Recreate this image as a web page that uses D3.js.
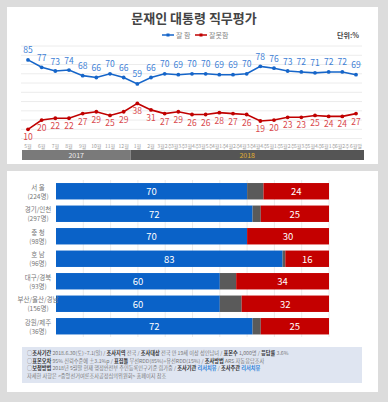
<!DOCTYPE html>
<html>
<head>
<meta charset="utf-8">
<script src="https://cdn.jsdelivr.net/npm/d3@7"></script>
<style>
  body { margin: 0; background: #dcdcdc; }
  svg { display: block; font-family: "Noto Sans CJK KR", "Noto Sans", sans-serif; }
</style>
</head>
<body>
<svg id="chart" width="388" height="402"></svg>
<script>
// line chart data
const periods = ['5월','6월','7월','8월','9월','10월','11월','12월','1월','2월',
  '3월2주','3월3주','3월4주','3월5주','4월1주','4월2주','4월3주','4월4주',
  '5월1주','5월2주','5월3주','5월4주','6월1주','6월2주','6월말'];
const good = [85,77,73,74,68,66,70,66,59,66,70,69,70,70,69,69,70,78,76,73,72,71,72,72,69];
const bad  = [10,20,22,22,27,29,25,29,38,31,27,29,26,26,28,27,26,19,20,23,23,25,24,24,27];
const years = [{ label: '2017', from: '5월', to: '12월' }, { label: '2018', from: '1월', to: '6월말' }];

// regional data
const regions = ['서 울','경기/인천','충 청','호 남','대구/경북','부산/울산/경남','강원/제주'];
const samples = ['(224명)','(297명)','(98명)','(96명)','(93명)','(156명)','(36명)'];
const regGood = [70,72,70,83,60,60,72];
const regBad  = [24,25,30,16,34,32,25];

const blue = '#1565c9', red = '#c00000';
const svg = d3.select('#chart');

// panels
svg.append('rect').attr('x', 7).attr('y', 7).attr('width', 371).attr('height', 157).attr('fill', '#fff');
svg.append('rect').attr('x', 7).attr('y', 171).attr('width', 371).attr('height', 221).attr('fill', '#fff');

// title + legend
svg.append('text').attr('x', 194).attr('y', 23).attr('text-anchor', 'middle')
  .attr('font-size', 13).attr('font-weight', 'bold').attr('fill', '#444')
  .text('문재인 대통령 직무평가');

const leg = svg.append('g').attr('font-size', 7).attr('fill', '#888');
[[162, blue, '잘  함'], [195, red, '잘못함']].forEach(([lx, c, t]) => {
  leg.append('line').attr('x1', lx).attr('x2', lx + 12).attr('y1', 35).attr('y2', 35)
    .attr('stroke', c).attr('stroke-width', 1.5);
  leg.append('rect').attr('x', lx + 4.5).attr('y', 33.5).attr('width', 3).attr('height', 3).attr('fill', c);
  leg.append('text').attr('x', lx + 14).attr('y', 37.5).text(t);
});
svg.append('text').attr('x', 359).attr('y', 37.5).attr('text-anchor', 'end')
  .attr('font-size', 7).attr('font-weight', 'bold').attr('fill', '#444').text('단위:%');

// line chart
const x = d3.scalePoint().domain(periods).range([28, 356]);
const y = d3.scaleLinear().domain([0, 100]).range([138.6, 46]);

svg.append('g').selectAll('line').data(d3.range(0, 101, 10)).join('line')
  .attr('x1', 21).attr('x2', 362).attr('y1', d => y(d)).attr('y2', d => y(d))
  .attr('stroke', '#ececec').attr('stroke-width', 1);

const series = [
  { vals: good, color: blue, label: '#3d80d6', dy: -10.5 },
  { vals: bad, color: red, label: '#d9474b', dy: 7 }
];
series.forEach(s => {
  const g = svg.append('g');
  g.append('path').datum(s.vals)
    .attr('fill', 'none').attr('stroke', s.color).attr('stroke-width', 1.6)
    .attr('d', d3.line().x((d, i) => x(periods[i])).y(d => y(d)));
  g.selectAll('circle').data(s.vals).join('circle')
    .attr('cx', (d, i) => x(periods[i])).attr('cy', d => y(d)).attr('r', 1.9).attr('fill', s.color);
  g.selectAll('text').data(s.vals).join('text')
    .attr('x', (d, i) => x(periods[i])).attr('y', d => y(d) + s.dy)
    .attr('dominant-baseline', 'central').attr('text-anchor', 'middle')
    .attr('font-size', 8.5).attr('fill', s.label).text(d => d);
});

svg.append('g').selectAll('text').data(periods).join('text')
  .attr('x', d => x(d)).attr('y', 148).attr('text-anchor', 'middle')
  .attr('font-size', 5).attr('fill', '#999').text(d => d);

const half = x.step() / 2;
const yr = svg.append('g');
years.forEach((yv, i) => {
  const x0 = i === 0 ? 22 : x(yv.from) - half;
  const x1 = i === 0 ? x(yv.to) + half : 364;
  yr.append('rect').attr('x', x0).attr('y', 150).attr('width', x1 - x0).attr('height', 10)
    .attr('fill', i === 0 ? '#7a7a7a' : '#555');
  yr.append('text').attr('x', (x0 + x1) / 2).attr('y', 157.5).attr('text-anchor', 'middle')
    .attr('font-size', 7).attr('fill', i === 0 ? '#eee' : '#e0b030').text(yv.label);
});

// bar chart
const bx = d3.scaleLinear().domain([0, 100]).range([56, 329]);
const by = d3.scaleBand().domain(regions).range([180, 337.5]).paddingInner(0.27).paddingOuter(0.135);

svg.append('g').selectAll('line').data(d3.range(10, 101, 10)).join('line')
  .attr('x1', d => bx(d)).attr('x2', d => bx(d)).attr('y1', 180).attr('y2', 337)
  .attr('stroke', '#e6e6e6').attr('stroke-width', 0.8);

const rows = svg.append('g').selectAll('g').data(regions).join('g')
  .attr('transform', d => `translate(0,${by(d)})`);
const bh = by.bandwidth();
rows.append('rect').attr('x', bx(0)).attr('width', (d, i) => bx(regGood[i]) - bx(0))
  .attr('height', bh).attr('fill', '#0a62c8');
rows.append('rect').attr('x', (d, i) => bx(regGood[i]))
  .attr('width', (d, i) => bx(100 - regBad[i]) - bx(regGood[i]))
  .attr('height', bh).attr('fill', '#5a5a5a');
rows.append('rect').attr('x', (d, i) => bx(100 - regBad[i]))
  .attr('width', (d, i) => bx(100) - bx(100 - regBad[i]))
  .attr('height', bh).attr('fill', '#c40000');
rows.append('text').attr('x', (d, i) => bx(regGood[i] / 2)).attr('y', bh / 2)
  .attr('dominant-baseline', 'central').attr('text-anchor', 'middle')
  .attr('font-size', 9.5).attr('fill', '#fff').text((d, i) => regGood[i]);
rows.append('text').attr('x', (d, i) => bx(100 - regBad[i] / 2)).attr('y', bh / 2)
  .attr('dominant-baseline', 'central').attr('text-anchor', 'middle')
  .attr('font-size', 9.5).attr('fill', '#fff').text((d, i) => regBad[i]);
rows.append('text').attr('x', 38).attr('y', bh / 2 - 4.5)
  .attr('dominant-baseline', 'central').attr('text-anchor', 'middle')
  .attr('font-size', 6.5).attr('fill', '#777').text(d => d);
rows.append('text').attr('x', 38).attr('y', bh / 2 + 4.5)
  .attr('dominant-baseline', 'central').attr('text-anchor', 'middle')
  .attr('font-size', 6.5).attr('fill', '#777').text((d, i) => samples[i]);

// footnote
svg.append('rect').attr('x', 22).attr('y', 347).attr('width', 340).attr('height', 36).attr('fill', '#dfe5f1');
const notes = [
  [['○', 0], ['조사기간', 1], [' 2018.6.30(토)~7.1(일) / ', 0], ['조사지역', 1], [' 전국 / ', 0], ['조사대상', 1],
   [' 전국 만 19세 이상 성인남녀 / ', 0], ['표본수', 1], [' 1,000명 / ', 0], ['응답률', 1], [' 3.6%', 0]],
  [['○', 0], ['표본오차', 1], [' 95% 신뢰수준에 ±3.1%p / ', 0], ['표집틀', 1], [' 무선RDD(85%)+유선RDD(15%) / ', 0],
   ['조사방법', 1], [' ARS 자동응답조사', 0]],
  [['○', 0], ['보정방법', 1], [' 2018년 5월말 현재 행정안전부 주민등록인구기준 림가중 / ', 0], ['조사기관', 1],
   [' ', 0], ['리서치뷰', 2], [' / ', 0], ['조사주관', 1], [' ', 0], ['리서치뷰', 2]],
  [['자세한 사항은 <중앙선거여론조사공정심의위원회> 홈페이지 참조', 0]]
];
const nt = svg.append('g').attr('font-size', 5.2);
notes.forEach((line, i) => {
  const t = nt.append('text').attr('x', 27).attr('y', 355 + i * 7.6);
  line.forEach(([s, k]) => {
    t.append('tspan').text(s)
      .attr('font-weight', k ? 'bold' : 'normal')
      .attr('fill', k === 2 ? '#2a7fd8' : k === 1 ? '#333' : '#777');
  });
});
</script>
</body>
</html>
